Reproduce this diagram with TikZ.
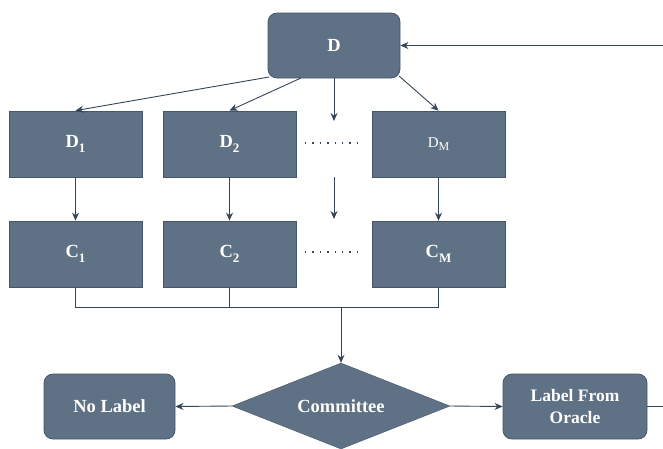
\documentclass[tikz,border=0pt]{standalone}
\usepackage{fontspec}
\setmainfont{Liberation Serif}
\usetikzlibrary{shapes.geometric,arrows.meta}
\definecolor{boxfill}{HTML}{5F7184}
\definecolor{boxedge}{HTML}{46566A}
\definecolor{linec}{HTML}{34465A}
\newcommand{\subsc}[1]{\raisebox{-0.28em}{\fontsize{13}{14}\selectfont #1}}
\tikzset{
  box/.style={draw=boxedge, line width=0.8pt, fill=boxfill, minimum width=133pt, minimum height=66pt, text=white, font=\fontsize{18.5}{20}\selectfont\bfseries, inner sep=0pt},
  rbox/.style={box, rounded corners=9pt},
  dia/.style={diamond, draw=boxedge, fill=boxfill, aspect=2.55, minimum width=218pt, minimum height=86pt, text=white, font=\fontsize{18.5}{20}\selectfont\bfseries, inner sep=0pt},
  conn/.style={draw=linec, line width=0.9pt},
  arr/.style={conn, -{Stealth[length=8pt,width=7pt]}},
  dotsl/.style={draw=linec, line width=1.4pt, dash pattern=on 1.4pt off 6pt}
}
\begin{document}
\begin{tikzpicture}[x=1pt,y=-1pt]
\useasboundingbox (0,0) rectangle (663,448);
\node[rbox, minimum width=132pt, minimum height=65pt] (D) at (334,45.5) {D};
\node[box] (D1) at (75.5,144) {D\subsc{1}};
\node[box] (D2) at (229.5,144) {D\subsc{2}};
\node[box, font=\fontsize{15}{16}\selectfont] (DM) at (438.5,144) {D\raisebox{-0.25em}{\fontsize{12}{13}\selectfont M}};
\node[box] (C1) at (75.5,254) {C\subsc{1}};
\node[box] (C2) at (229.5,254) {C\subsc{2}};
\node[box] (CM) at (438.5,254) {C\subsc{M}};
\node[dia] (com) at (341,406) {Committee};
\node[rbox, minimum width=131pt, minimum height=65pt] (nol) at (109.5,406.5) {No Label};
\node[rbox, minimum width=144pt, minimum height=65pt, align=center, font=\fontsize{17.5}{22}\selectfont\bfseries] (ora) at (575,406.5) {Label From\\Oracle};
\coordinate (dl) at (269,77);
\coordinate (d2s) at (301,78);
\coordinate (dr) at (399,76);
\coordinate (m1) at (334,121);
\coordinate (m2a) at (334,177);
\coordinate (m2b) at (334,219);
\coordinate (jn) at (341,307);
\coordinate (inR) at (663,45.5);
\coordinate (outR) at (663,406.5);
\draw[arr] (dl) -- (D1.north);
\draw[arr] (d2s) -- (D2.north);
\draw[arr] (D.south) -- (m1);
\draw[arr] (dr) -- (DM.north);
\draw[arr] (D1) -- (C1);
\draw[arr] (D2) -- (C2);
\draw[arr] (DM) -- (CM);
\draw[arr] (m2a) -- (m2b);
\draw[dotsl] (305,143) -- (360,143);
\draw[dotsl] (305,252) -- (360,252);
\draw[conn] (C1.south) |- (jn);
\draw[conn] (CM.south) |- (jn);
\draw[conn] (C2.south) -- (C2.south |- jn);
\draw[arr] (jn) -- (com.north);
\draw[arr] (com.west) -- (nol.east);
\draw[arr] (com.east) -- (ora.west);
\draw[conn] (ora.east) -- (outR);
\draw[arr] (inR) -- (D.east);
\end{tikzpicture}
\end{document}
